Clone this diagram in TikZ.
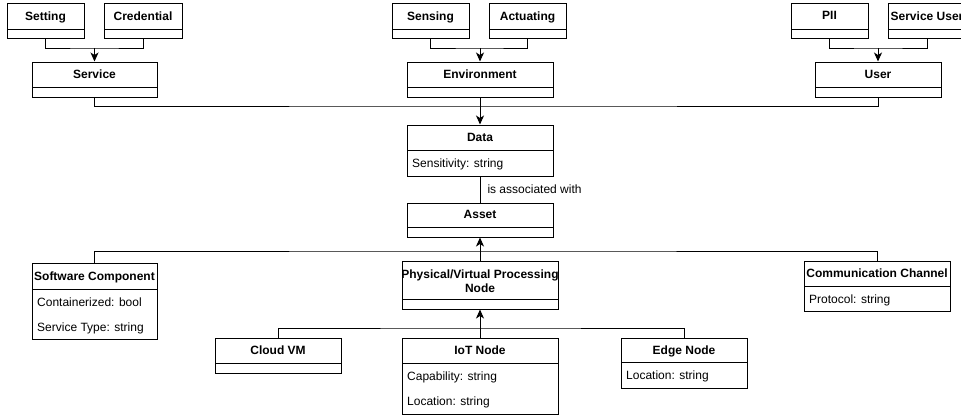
\documentclass[tikz,border=0pt]{standalone}
\usepackage{fontspec}
\setmainfont{Liberation Sans}
\usetikzlibrary{arrows.meta,fit,calc}

% clase UML: nombre, x1, y1, x2, y2, y del separador, titulo, atributos
\newcommand{\umlclase}[8]{%
  \node[caja, fit={(#2,#3) (#4,#5)}] (#1) {};
  \draw[linea] (#2,#6) -- (#4,#6);
  \node[titulo] (#1-t) at ({(#2+#4)/2},{(#3+#6)/2+1}) {\vphantom{Hg}#7};
  \if\relax\detokenize{#8}\relax\else
    \foreach \a [count=\i] in {#8} {
      \node[atributo] (#1-a\i) at ({#2+5},{#6+17+(\i-1)*25.5}) {\a};
    }%
  \fi
}

\begin{document}
\begin{tikzpicture}[x=1pt, y=-1pt,
    linea/.style={line width=1pt},
    caja/.style={draw, line width=1pt, inner sep=0pt},
    titulo/.style={font=\fontsize{12}{14}\selectfont\bfseries, align=center, inner sep=0pt},
    atributo/.style={font=\fontsize{12}{14}\selectfont, anchor=base west, inner sep=0pt},
    etiqueta/.style={font=\fontsize{12}{14}\selectfont, right, inner sep=0pt, xshift=7pt},
    flecha/.style={line width=1pt, -{Stealth[length=9pt,width=8pt,inset=2.5pt]}}]
  \useasboundingbox (0,0) rectangle (961,416);
  \clip (0,0) rectangle (961,416);

  % fila de arriba
  \umlclase{setting}{7}{3}{84}{38}{29}{Setting}{}
  \umlclase{credential}{104}{3}{182}{38}{29}{Credential}{}
  \umlclase{service}{32}{62}{157}{97}{87}{Service}{}
  \umlclase{sensing}{392}{3}{469}{38}{29}{Sensing}{}
  \umlclase{actuating}{489}{3}{566}{38}{29}{Actuating}{}
  \umlclase{environment}{407}{62}{553}{97}{87}{Environment}{}
  \umlclase{pii}{791}{3}{868}{38}{29}{PII}{}
  \umlclase{serviceuser}{888}{3}{966}{38}{29}{Service User}{}
  \umlclase{user}{815}{62}{941}{97}{87}{User}{}

  % centro
  \umlclase{data}{407}{125}{553}{176}{150}{Data}{Sensitivity: string}
  \umlclase{asset}{407}{203}{553}{237}{227}{Asset}{}

  % fila de abajo
  \umlclase{software}{32}{263}{157}{339}{289}{Software Component}{Containerized: bool, Service Type: string}
  \umlclase{procnode}{402}{261}{558}{309}{299}{Physical/Virtual Processing\\Node}{}
  \umlclase{channel}{804}{261}{950}{311}{286}{Communication Channel}{Protocol: string}
  \umlclase{cloudvm}{215}{338}{341}{373}{363}{Cloud VM}{}
  \umlclase{iot}{402}{338}{558}{414}{363}{IoT Node}{Capability: string, Location: string}
  \umlclase{edge}{621}{338}{747}{388}{362}{Edge Node}{Location: string}

  % herencias de arriba
  \coordinate (j1) at (service.north |- 0,48);
  \coordinate (j2) at (environment.north |- 0,48);
  \coordinate (j3) at (user.north |- 0,48);
  \draw[linea] (setting.south) |- (j1) -| (credential.south);
  \draw[flecha] (j1) -- (service.north);
  \draw[linea] (sensing.south) |- (j2) -| (actuating.south);
  \draw[flecha] (j2) -- (environment.north);
  \draw[linea] (pii.south) |- (j3) -| (serviceuser.south);
  \draw[flecha] (j3) -- (user.north);

  \coordinate (b1) at (environment.south |- 0,106);
  \draw[linea] (service.south) |- (b1) -| (user.south);
  \draw[flecha] (environment.south) -- (data.north);

  % asociacion
  \draw[linea] (data.south) -- node[etiqueta] (assoc) {is associated with} (asset.north);

  % herencias de abajo
  \coordinate (b2) at (procnode.north |- 0,251);
  \draw[linea] (software.north) |- (b2) -| (channel.north);
  \draw[flecha] (procnode.north) -- (asset.south);
  \coordinate (b3) at (iot.north |- 0,328);
  \draw[linea] (cloudvm.north) |- (b3) -| (edge.north);
  \draw[flecha] (iot.north) -- (procnode.south);
\end{tikzpicture}
\end{document}
